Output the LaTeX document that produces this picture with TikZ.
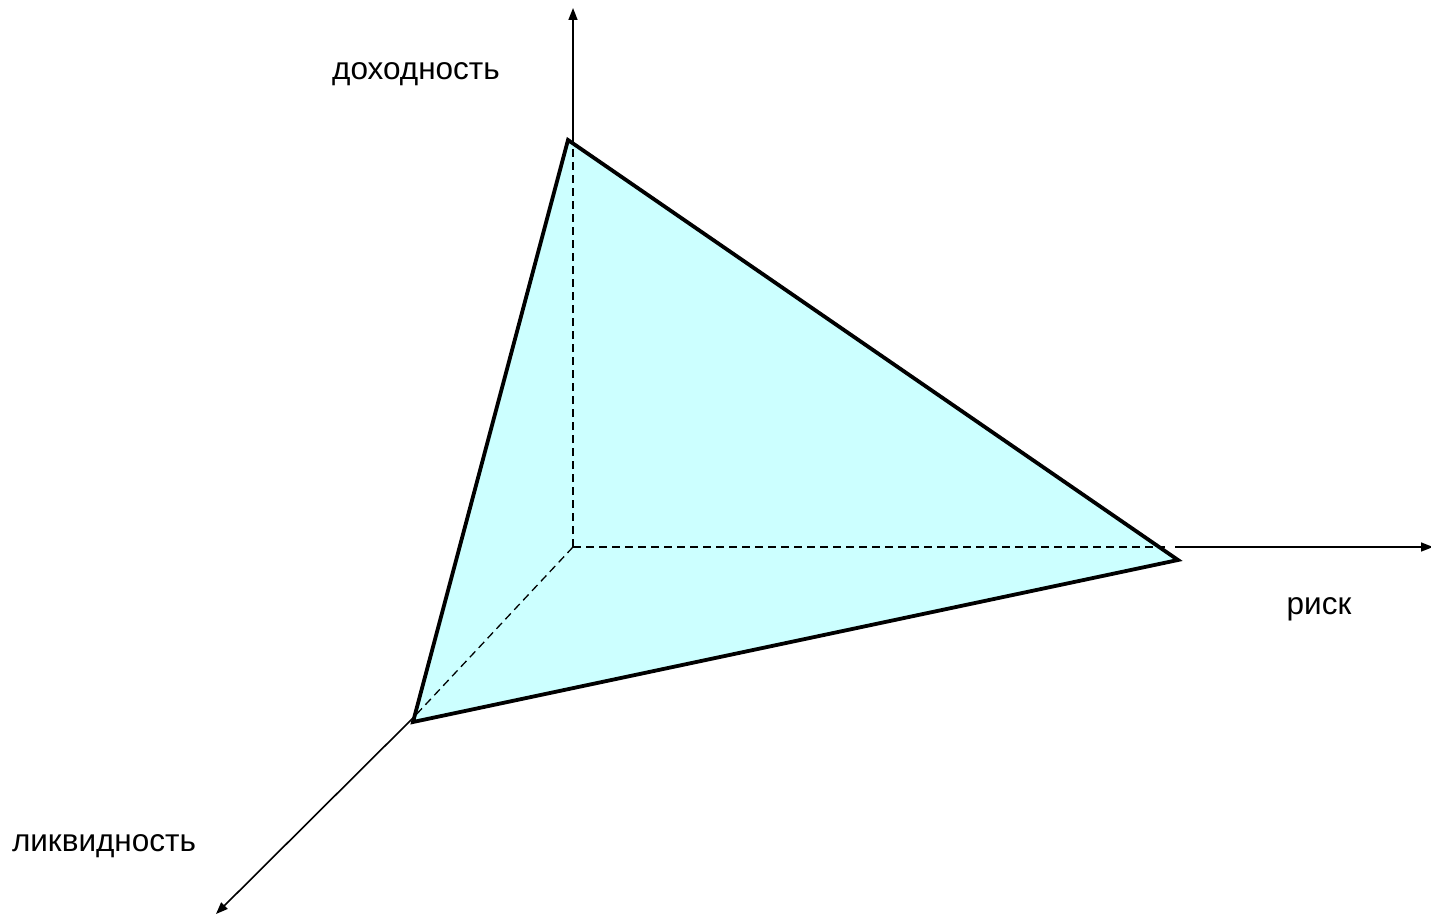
\documentclass[tikz,border=0pt]{standalone}
\usepackage{fontspec}
\setmainfont{Liberation Sans}
\usetikzlibrary{arrows.meta}
\definecolor{facecyan}{HTML}{CCFFFF}
\tikzset{
  axis/.style={line width=1.6pt, -{Triangle[length=12pt,width=9pt]}},
  hidden/.style={line width=1.3pt, dash pattern=on 8pt off 5pt},
  face/.style={fill=facecyan, draw=black, line width=3.8pt, line join=miter},
  lbl/.style={font=\fontsize{31.5}{36}\selectfont, inner sep=0pt}
}
\begin{document}
\begin{tikzpicture}[x=1pt,y=-1pt]
\useasboundingbox (0,0) rectangle (1431,917);
\coordinate (O) at (573,547);
\coordinate (T) at (568,140);
\coordinate (R) at (1178,560);
\coordinate (L) at (413,722);
\coordinate (Ttop) at (573,140);
\coordinate (Yend) at (573,8);
\coordinate (Rax) at (1175,547);
\coordinate (Xend) at (1433,547);
\coordinate (Lax) at (413,718);
\coordinate (Zend) at (216,914);
\coordinate (Rdash) at (1165,547);
\filldraw[face] (T) -- (R) -- (L) -- cycle;
\draw[hidden] (O) -- (Ttop);
\draw[hidden] (O) -- (Rdash);
\draw[hidden] (O) -- (Lax);
\draw[axis] (Ttop) -- (Yend);
\draw[axis] (Rax) -- (Xend);
\draw[axis] (Lax) -- (Zend);
\node[lbl] (ly) at (416,74) {доходность};
\node[lbl] (lx) at (1319,609) {риск};
\node[lbl] (lz) at (104,846) {ликвидность};
\end{tikzpicture}
\end{document}
